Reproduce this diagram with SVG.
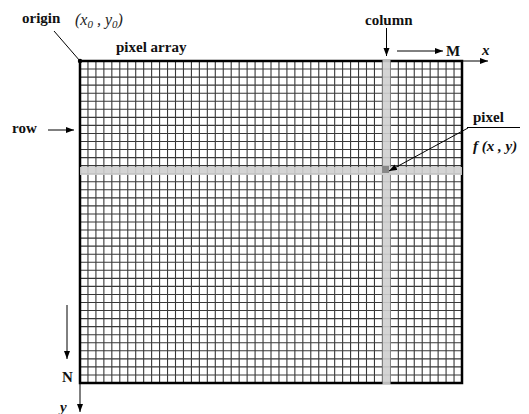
<svg xmlns="http://www.w3.org/2000/svg" width="529" height="414" viewBox="0 0 529 414">
<defs>
<marker id="ah" markerWidth="9" markerHeight="7" refX="8" refY="3" orient="auto" markerUnits="userSpaceOnUse">
<path d="M0,0 L8,3 L0,6 z" fill="#000"/>
</marker>
<style>
.lbl{font-family:"Liberation Serif","Times New Roman",serif;font-weight:bold;font-size:15px;fill:#111}
.ital{font-family:"Liberation Serif","Times New Roman",serif;font-style:italic;fill:#222}
.arr{stroke:#000;stroke-width:1;fill:none;marker-end:url(#ah)}
.gl{stroke:#383838;stroke-width:1.1;fill:none}
.band{fill:#cfcfcf;opacity:0.9}
</style>
</defs>
<rect width="529" height="414" fill="#fff"/>
<g id="pixel-array">
<path class="gl" d="M87.96 61V383M95.92 61V383M103.87 61V383M111.83 61V383M119.79 61V383M127.75 61V383M135.71 61V383M143.67 61V383M151.62 61V383M159.58 61V383M167.54 61V383M175.5 61V383M183.46 61V383M191.42 61V383M199.37 61V383M207.33 61V383M215.29 61V383M223.25 61V383M231.21 61V383M239.17 61V383M247.12 61V383M255.08 61V383M263.04 61V383M271 61V383M278.96 61V383M286.92 61V383M294.87 61V383M302.83 61V383M310.79 61V383M318.75 61V383M326.71 61V383M334.67 61V383M342.62 61V383M350.58 61V383M358.54 61V383M366.5 61V383M374.46 61V383M382.42 61V383M390.37 61V383M398.33 61V383M406.29 61V383M414.25 61V383M422.21 61V383M430.17 61V383M438.12 61V383M446.08 61V383M454.04 61V383"/>
<path class="gl" d="M80 69.05H462M80 77.1H462M80 85.15H462M80 93.2H462M80 101.25H462M80 109.3H462M80 117.35H462M80 125.4H462M80 133.45H462M80 141.5H462M80 149.55H462M80 157.6H462M80 165.65H462M80 173.7H462M80 181.75H462M80 189.8H462M80 197.85H462M80 205.9H462M80 213.95H462M80 222H462M80 230.05H462M80 238.1H462M80 246.15H462M80 254.2H462M80 262.25H462M80 270.3H462M80 278.35H462M80 286.4H462M80 294.45H462M80 302.5H462M80 310.55H462M80 318.6H462M80 326.65H462M80 334.7H462M80 342.75H462M80 350.8H462M80 358.85H462M80 366.9H462M80 374.95H462"/>
<rect x="80" y="61" width="382" height="322" fill="none" stroke="#000" stroke-width="2.5"/>
<rect class="band" x="80" y="167" width="382" height="8"/>
<rect class="band" x="382.5" y="60" width="8" height="325"/>
<rect x="382" y="166" width="7" height="7" fill="#888"/>
</g>
<g id="connectors">
<line x1="54" y1="31" x2="80" y2="61" stroke="#000" stroke-width="1"/>
<circle cx="80" cy="61" r="2.2" fill="#000"/>
<line class="arr" x1="386.5" y1="28" x2="386.5" y2="56"/>
<line class="arr" x1="397" y1="51" x2="443" y2="51"/>
<line class="arr" x1="462" y1="61" x2="488" y2="61"/>
<line class="arr" x1="48" y1="130" x2="74" y2="130"/>
<line x1="467" y1="127.5" x2="520" y2="127.5" stroke="#000" stroke-width="1"/>
<line class="arr" x1="468" y1="128" x2="389" y2="171"/>
<line class="arr" x1="67" y1="305" x2="67" y2="359"/>
<line class="arr" x1="80" y1="383" x2="80" y2="412"/>
</g>
<g id="labels">
<text class="lbl" x="22" y="23" font-size="15.5">origin</text>
<text class="ital" x="75" y="25" font-size="16" xml:space="preserve">(x<tspan font-size="11" dy="3">0</tspan><tspan dy="-3"> , y</tspan><tspan font-size="11" dy="3">0</tspan><tspan dy="-3">)</tspan></text>
<text class="lbl" x="116" y="52">pixel array</text>
<text class="lbl" x="365" y="25" font-size="14">column</text>
<text class="lbl" x="446" y="56">M</text>
<text class="lbl" x="482" y="55" font-style="italic">x</text>
<text class="lbl" x="12" y="133">row</text>
<text class="lbl" x="473" y="122" font-size="15.5">pixel</text>
<text class="lbl" x="473" y="151" font-size="16" font-style="italic" xml:space="preserve">f (x , y)</text>
<text class="lbl" x="62" y="382">N</text>
<text class="lbl" x="60" y="412" font-style="italic">y</text>
</g>
</svg>
